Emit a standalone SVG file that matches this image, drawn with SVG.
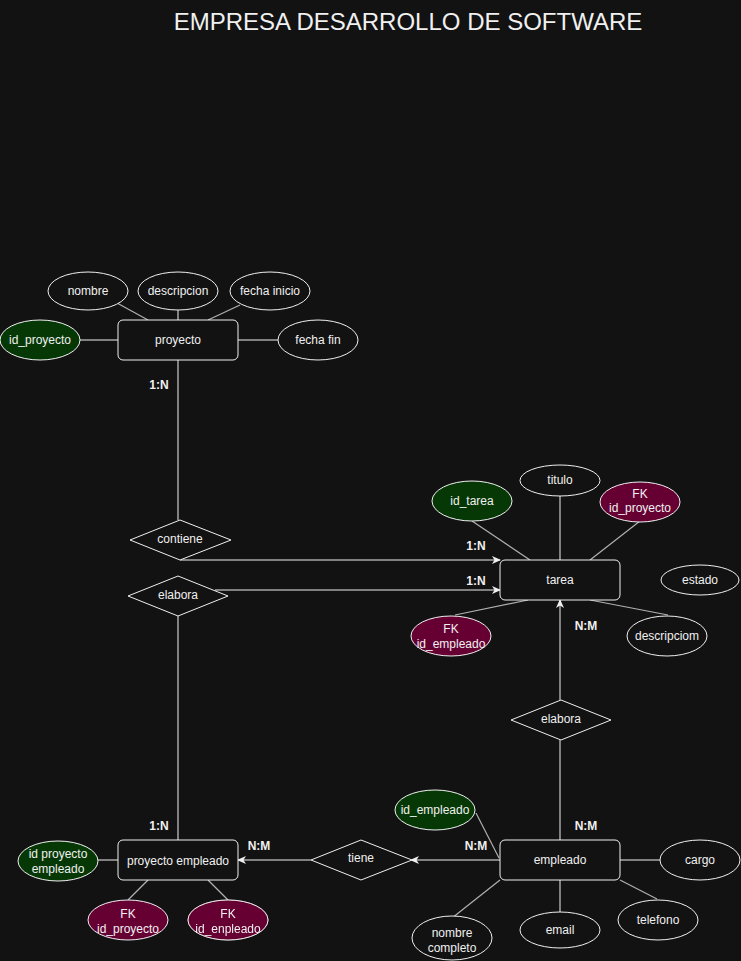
<svg xmlns="http://www.w3.org/2000/svg" width="741" height="961" viewBox="0 0 741 961">
<defs>
<marker id="arr" markerWidth="10" markerHeight="10" refX="8" refY="5" orient="auto" markerUnits="userSpaceOnUse">
<path d="M0,1 L9,5 L0,9 L2.5,5 Z" fill="#f0f0f0"/>
</marker>
<filter id="glow" x="-30%" y="-30%" width="160%" height="160%">
<feGaussianBlur in="SourceAlpha" stdDeviation="2"/>
<feFlood flood-color="#ffffff" flood-opacity="0.5"/>
<feComposite operator="in" in2="SourceAlpha"/>
<feMerge><feMergeNode/><feMergeNode in="SourceGraphic"/></feMerge>
</filter>
</defs>
<style>
text{font-family:"Liberation Sans",Arial,sans-serif;font-size:12px;fill:#f0f0f0;text-anchor:middle;dominant-baseline:central}
.ent{fill:#121212;stroke:#f0f0f0;stroke-width:1}
.att{fill:#121212;stroke:#f0f0f0;stroke-width:1}
.pk{fill:#063806;stroke:#f0f0f0;stroke-width:1}
.fk{fill:#660033;stroke:#f0f0f0;stroke-width:1}
.rel{fill:#121212;stroke:#f0f0f0;stroke-width:1}
.ln{stroke:#f0f0f0;stroke-width:1;fill:none}
.al{stroke:#b0b0b0;stroke-width:1.2;fill:none}
.lbl{font-weight:bold}
.title{font-size:24px}
</style>
<rect width="741" height="961" fill="#121212"/>
<text class="title" x="408" y="21">EMPRESA DESARROLLO DE SOFTWARE</text>

<g id="connectors">
<line class="al" x1="117" y1="303" x2="148" y2="320"/>
<line class="ln" x1="178" y1="310" x2="178" y2="320"/>
<line class="al" x1="240" y1="305" x2="208" y2="320"/>
<line class="ln" x1="80" y1="340" x2="118" y2="340"/>
<line class="ln" x1="238" y1="340" x2="278" y2="340"/>
<line class="ln" x1="178" y1="360" x2="178" y2="520"/>
<text class="lbl" x="159" y="385">1:N</text>
<line class="ln" x1="180" y1="560" x2="500" y2="560" marker-end="url(#arr)"/>
<text class="lbl" x="476" y="546">1:N</text>
<line class="ln" x1="215" y1="590" x2="500" y2="590" marker-end="url(#arr)"/>
<text class="lbl" x="476" y="581">1:N</text>
<line class="ln" x1="178" y1="616" x2="178" y2="840"/>
<text class="lbl" x="159" y="826">1:N</text>
<line class="ln" x1="560" y1="496" x2="560" y2="560"/>
<line class="al" x1="472" y1="521" x2="530" y2="560"/>
<line class="al" x1="640" y1="521" x2="590" y2="560"/>
<line class="al" x1="590" y1="600" x2="668" y2="615"/>
<line class="al" x1="528" y1="600" x2="455" y2="615"/>
<line class="ln" x1="560" y1="700" x2="560" y2="600" marker-end="url(#arr)"/>
<text class="lbl" x="586" y="626">N:M</text>
<line class="ln" x1="560" y1="740" x2="560" y2="840"/>
<text class="lbl" x="586" y="826">N:M</text>
<line class="al" x1="476" y1="813" x2="499" y2="858"/>
<line class="ln" x1="620" y1="860" x2="660" y2="860"/>
<line class="al" x1="620" y1="880" x2="657" y2="899"/>
<line class="ln" x1="560" y1="880" x2="560" y2="912"/>
<line class="al" x1="500" y1="880" x2="452" y2="918"/>
<line class="ln" x1="500" y1="860" x2="411" y2="860" marker-end="url(#arr)"/>
<text class="lbl" x="476" y="846">N:M</text>
<line class="ln" x1="311" y1="860" x2="238" y2="860" marker-end="url(#arr)"/>
<text class="lbl" x="259" y="846">N:M</text>
<line class="ln" x1="98" y1="860" x2="118" y2="860"/>
<line class="al" x1="148" y1="880" x2="128" y2="900"/>
<line class="al" x1="208" y1="880" x2="228" y2="900"/>
</g>

<g id="proyecto"><rect class="ent" x="118" y="320" width="120" height="40" rx="5"/><text x="178" y="340">proyecto</text></g>
<g id="nombre"><ellipse class="att" cx="88" cy="291" rx="40" ry="19"/><text x="88" y="291">nombre</text></g>
<g id="descripcion"><ellipse class="att" cx="178" cy="291" rx="40" ry="19"/><text x="178" y="291">descripcion</text></g>
<g id="fecha_inicio"><ellipse class="att" cx="270" cy="291" rx="40" ry="19"/><text x="270" y="291">fecha inicio</text></g>
<g id="id_proyecto"><ellipse class="pk" cx="40" cy="340" rx="40" ry="20"/><text x="40" y="340">id_proyecto</text></g>
<g id="fecha_fin"><ellipse class="att" cx="318" cy="340" rx="40" ry="20"/><text x="318" y="340">fecha fin</text></g>

<g id="contiene"><polygon class="rel" points="130,540 180,520 231,540 180,560"/><text x="180" y="539">contiene</text></g>
<g id="elabora1"><polygon class="rel" points="128,596 178,576 228,596 178,616"/><text x="178" y="595">elabora</text></g>

<g id="tarea"><rect class="ent" x="500" y="560" width="120" height="40" rx="5"/><text x="560" y="580">tarea</text></g>
<g id="titulo"><ellipse class="att" cx="560" cy="480.5" rx="40" ry="15.5"/><text x="560" y="480">titulo</text></g>
<g id="id_tarea"><ellipse class="pk" cx="472" cy="501" rx="40" ry="20"/><text x="472" y="501">id_tarea</text></g>
<g id="fk_id_proyecto_t"><ellipse class="fk" cx="640" cy="502" rx="40" ry="20"/><text x="640" y="494">FK</text><text x="640" y="508">id_proyecto</text></g>
<g id="estado"><ellipse class="att" cx="700" cy="580" rx="39" ry="15"/><text x="700" y="580">estado</text></g>
<g id="descripciom"><ellipse class="att" cx="667" cy="636" rx="40" ry="20"/><text x="667" y="636">descripciom</text></g>
<g id="fk_id_empleado_t"><ellipse class="fk" cx="451" cy="636" rx="40" ry="20"/><text x="451" y="629">FK</text><text x="451" y="644">id_empleado</text></g>

<g id="elabora2"><polygon class="rel" points="511,720 561,700 611,720 561,740"/><text x="561" y="719">elabora</text></g>

<g id="empleado"><rect class="ent" x="500" y="840" width="120" height="40" rx="5"/><text x="560" y="860">empleado</text></g>
<g id="id_empleado"><ellipse class="pk" cx="435" cy="810" rx="40" ry="20"/><text x="435" y="810">id_empleado</text></g>
<g id="cargo"><ellipse class="att" cx="700" cy="860" rx="40" ry="20"/><text x="700" y="860">cargo</text></g>
<g id="telefono"><ellipse class="att" cx="658" cy="920" rx="40" ry="20"/><text x="658" y="920">telefono</text></g>
<g id="email"><ellipse class="att" cx="560" cy="930" rx="40" ry="18"/><text x="560" y="930">email</text></g>
<g id="nombre_completo"><ellipse class="att" cx="452" cy="938" rx="40" ry="22"/><text x="452" y="933">nombre</text><text x="452" y="948">completo</text></g>

<g id="tiene"><polygon class="rel" points="311,860 361,840 412,860 361,880"/><text x="361" y="858">tiene</text></g>

<g id="proyecto_empleado"><rect class="ent" x="118" y="840" width="120" height="40" rx="5"/><text x="178" y="861">proyecto empleado</text></g>
<g id="id_proyecto_empleado"><ellipse class="pk" cx="58" cy="861" rx="40" ry="20"/><text x="58" y="854">id proyecto</text><text x="58" y="869">empleado</text></g>
<g id="fk_id_proyecto_pe"><ellipse class="fk" cx="128" cy="920" rx="40" ry="20"/><text x="128" y="914">FK</text><text x="128" y="929">id_proyecto</text></g>
<g id="fk_id_enpleado_pe" filter="url(#glow)"><ellipse class="fk" cx="228" cy="920" rx="40" ry="20"/><text x="228" y="914">FK</text><text x="228" y="929">id_enpleado</text></g>
</svg>
